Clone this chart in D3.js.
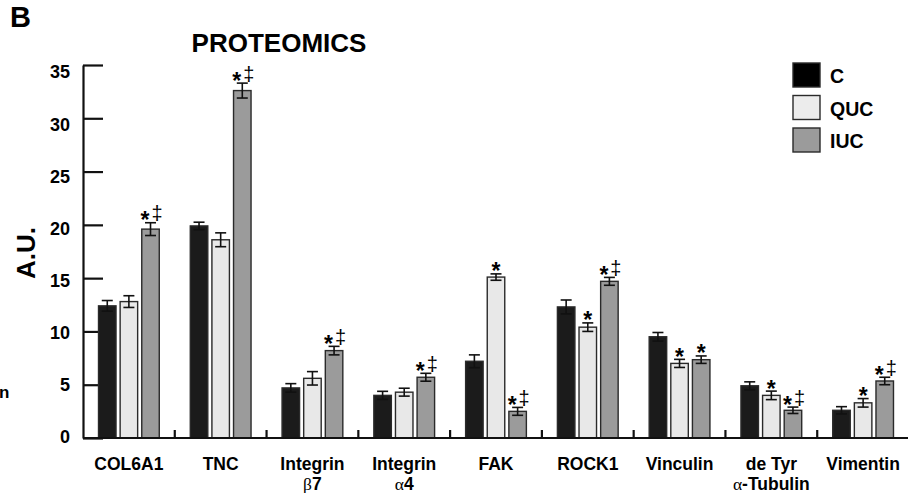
<!DOCTYPE html>
<html>
<head>
<meta charset="utf-8">
<script src="https://cdn.jsdelivr.net/npm/d3@7/dist/d3.min.js"></script>
<style>
  html, body { margin: 0; padding: 0; background: #fff; }
  svg { display: block; font-family: "Liberation Sans", Arial, sans-serif; }
</style>
</head>
<body>
<svg id="chart" width="908" height="493"></svg>
<script>
// Protein levels (arbitrary units) per group: control, QUC, IUC
const categories = ["COL6A1", "TNC", "Integrin β7", "Integrin α4", "FAK", "ROCK1", "Vinculin", "de Tyr α-Tubulin", "Vimentin"];
const tickLabels = [["COL6A1"], ["TNC"], ["Integrin", "β7"], ["Integrin", "α4"], ["FAK"], ["ROCK1"], ["Vinculin"], ["de Tyr", "α-Tubulin"], ["Vimentin"]];
const seriesNames = ["C", "QUC", "IUC"];

const valuesC   = [12.4, 19.9, 4.7, 4.0, 7.2, 12.3, 9.5, 4.9, 2.6];
const valuesQUC = [12.8, 18.6, 5.6, 4.3, 15.1, 10.4, 7.0, 4.0, 3.3];
const valuesIUC = [19.6, 32.6, 8.2, 5.7, 2.5, 14.7, 7.35, 2.6, 5.35];

const errC   = [0.5, 0.35, 0.4, 0.38, 0.6, 0.65, 0.4, 0.37, 0.34];
const errQUC = [0.55, 0.65, 0.63, 0.37, 0.3, 0.4, 0.38, 0.4, 0.4];
const errIUC = [0.6, 0.7, 0.4, 0.37, 0.37, 0.37, 0.35, 0.3, 0.35];

// Significance marks: * vs C, ‡ vs QUC
const marksC   = ["", "", "", "", "", "", "", "", ""];
const marksQUC = ["", "", "", "", "*", "*", "*", "*", "*"];
const marksIUC = ["*‡", "*‡", "*‡", "*‡", "*‡", "*‡", "*", "*‡", "*‡"];

const yTicks = [0, 5, 10, 15, 20, 25, 30, 35];

const seriesValues = [valuesC, valuesQUC, valuesIUC];
const seriesErrors = [errC, errQUC, errIUC];
const seriesMarks = [marksC, marksQUC, marksIUC];
const fills = { C: "#1b1b1b", QUC: "#e8e8e8", IUC: "#9b9b9b" };
const legendFills = { C: "#000000", QUC: "#ececec", IUC: "#9b9b9b" };

const svg = d3.select("#chart");

const plotLeft = 83, plotRight = 909, plotTop = 65, plotBottom = 438;

const x = d3.scaleBand().domain(categories).range([plotLeft, plotRight]).paddingInner(0).paddingOuter(0);
const xs = d3.scaleBand().domain(seriesNames)
  .range([x.bandwidth() * 0.169, x.bandwidth() * 0.831])
  .paddingInner(0.19).paddingOuter(0);
const y = d3.scaleLinear().domain([0, 35]).range([plotBottom, plotTop]);
// tick labels sit on a slightly tighter ladder than the ticks
const yLabel = d3.scaleLinear().domain([0, 35]).range([plotBottom - 1.5, plotTop + 7]);

// Panel letter and title
svg.append("text").attr("x", 10).attr("y", 27)
  .attr("font-size", 29).attr("font-weight", "bold").text("B");
svg.append("text").attr("x", 279).attr("y", 52).attr("text-anchor", "middle")
  .attr("font-size", 26).attr("font-weight", "bold").text("PROTEOMICS");

// Fragment of neighbouring panel text
svg.append("text").attr("x", -1).attr("y", 398)
  .attr("font-size", 17).attr("font-weight", "bold").text("n");

// Y axis with inward ticks
const yAxis = d3.axisLeft(y).tickValues(yTicks).tickSizeInner(-20).tickSizeOuter(0).tickFormat("");
const gy = svg.append("g").attr("transform", `translate(${plotLeft},0)`).call(yAxis);
gy.select(".domain").attr("stroke", "#111").attr("stroke-width", 2.2);
gy.selectAll(".tick line").attr("stroke", "#111").attr("stroke-width", 2.2);

svg.append("g").selectAll("text").data(yTicks).join("text")
  .attr("x", 70).attr("y", d => yLabel(d)).attr("dy", "0.36em")
  .attr("text-anchor", "end").attr("font-size", 18).attr("font-weight", "bold")
  .text(d => d);

// Y axis title
svg.append("text")
  .attr("transform", `translate(35,${253}) rotate(-90)`)
  .attr("text-anchor", "middle").attr("font-size", 26).attr("font-weight", "bold")
  .text("A.U.");

// Bars
const rows = [];
categories.forEach((cat, i) => {
  seriesNames.forEach((s, j) => {
    rows.push({ cat, series: s, value: seriesValues[j][i], err: seriesErrors[j][i], mark: seriesMarks[j][i] });
  });
});

const bars = svg.append("g");
bars.selectAll("rect").data(rows).join("rect")
  .attr("x", d => x(d.cat) + xs(d.series))
  .attr("y", d => y(d.value))
  .attr("width", xs.bandwidth())
  .attr("height", d => y(0) - y(d.value))
  .attr("fill", d => fills[d.series])
  .attr("stroke", "#2a2a2a").attr("stroke-width", 1.4);

// Error bars
const capW = 11;
const eg = svg.append("g").attr("stroke", "#111").attr("stroke-width", 1.6);
rows.forEach(d => {
  const cx = x(d.cat) + xs(d.series) + xs.bandwidth() / 2;
  eg.append("line").attr("x1", cx).attr("x2", cx).attr("y1", y(d.value - d.err)).attr("y2", y(d.value + d.err));
  eg.append("line").attr("x1", cx - capW / 2).attr("x2", cx + capW / 2).attr("y1", y(d.value + d.err)).attr("y2", y(d.value + d.err));
  eg.append("line").attr("x1", cx - capW / 2).attr("x2", cx + capW / 2).attr("y1", y(d.value - d.err)).attr("y2", y(d.value - d.err));
});

// Significance marks
const mg = svg.append("g").attr("fill", "#000");
rows.filter(d => d.mark).forEach(d => {
  const cx = x(d.cat) + xs(d.series) + xs.bandwidth() / 2;
  const errTop = y(d.value + d.err);
  const hasDagger = d.mark.includes("‡");
  mg.append("text")
    .attr("x", hasDagger ? cx - 5.5 : cx).attr("y", errTop + 5.5)
    .attr("text-anchor", "middle").attr("font-size", 23).attr("font-weight", "bold")
    .text("*");
  if (hasDagger) {
    mg.append("text")
      .attr("x", cx + 6.5).attr("y", errTop - 2.5)
      .attr("text-anchor", "middle").attr("font-size", 20).attr("font-weight", "normal")
      .text("‡");
  }
});

// X axis baseline with group separators
svg.append("line").attr("x1", plotLeft).attr("x2", 908).attr("y1", plotBottom).attr("y2", plotBottom)
  .attr("stroke", "#111").attr("stroke-width", 2.2);
svg.append("g").selectAll("line").data(categories.slice(1)).join("line")
  .attr("x1", d => x(d)).attr("x2", d => x(d))
  .attr("y1", plotBottom).attr("y2", plotBottom - 8)
  .attr("stroke", "#111").attr("stroke-width", 2.2);

// Category labels (Greek letters in a serif face)
const lg = svg.append("g");
tickLabels.forEach((lines, i) => {
  const cx = x(categories[i]) + x.bandwidth() / 2;
  lines.forEach((line, k) => {
    const t = lg.append("text").attr("x", cx).attr("y", 470 + k * 19.5)
      .attr("text-anchor", "middle").attr("font-size", 17.5).attr("font-weight", "bold");
    const parts = line.split(/([α-ω])/).filter(p => p.length);
    parts.forEach(p => {
      const isGreek = /^[α-ω]$/.test(p);
      t.append("tspan")
        .attr("font-family", isGreek ? "'Liberation Serif', 'DejaVu Serif', serif" : null)
        .attr("font-weight", isGreek ? "normal" : "bold")
        .text(p);
    });
  });
});

// Legend
const leg = svg.append("g");
seriesNames.forEach((s, i) => {
  const yy = 63 + i * 32.5;
  leg.append("rect").attr("x", 793).attr("y", yy).attr("width", 27).attr("height", 24)
    .attr("fill", legendFills[s]).attr("stroke", "#2a2a2a").attr("stroke-width", 1.4);
  leg.append("text").attr("x", 830).attr("y", yy + 20)
    .attr("font-size", 19.5).attr("font-weight", "bold").text(s);
});
</script>
</body>
</html>
